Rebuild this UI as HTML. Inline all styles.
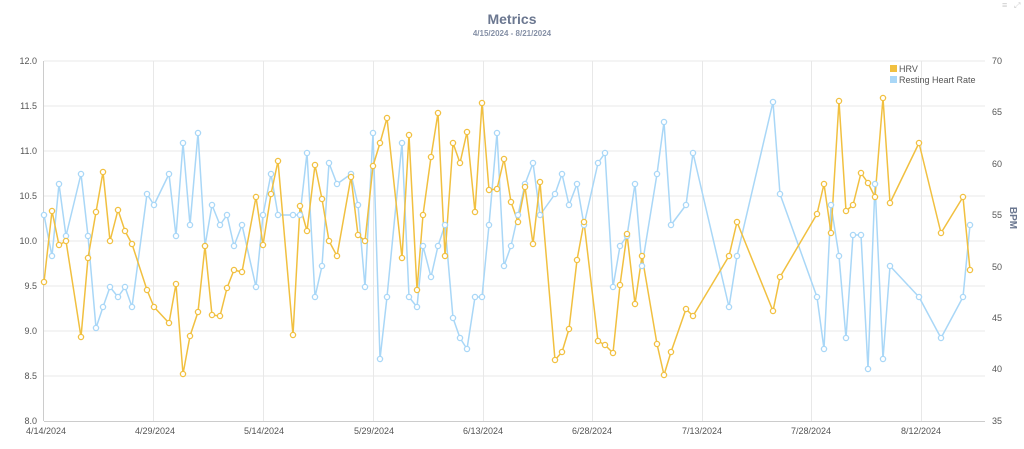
<!DOCTYPE html>
<html><head><meta charset="utf-8"><style>
html,body{margin:0;padding:0;background:#fff;}
svg{display:block;font-family:"Liberation Sans",sans-serif;}
</style></head><body>
<svg width="1024" height="449" viewBox="0 0 1024 449" xmlns="http://www.w3.org/2000/svg">
<text x="512" y="24" text-anchor="middle" font-size="14" font-weight="bold" fill="#6b7790">Metrics</text>
<text x="512" y="36" text-anchor="middle" font-size="8" font-weight="bold" fill="#8590a6">4/15/2024 - 8/21/2024</text>
<text x="1002" y="8" font-size="9" fill="#ccc">≡</text>
<text x="1014" y="8" font-size="8" fill="#ccc">⤢</text>
<g stroke="#e8e8e8" stroke-width="1">
<line x1="44" y1="61" x2="985" y2="61"/><line x1="44" y1="106" x2="985" y2="106"/>
<line x1="44" y1="151" x2="985" y2="151"/><line x1="44" y1="196" x2="985" y2="196"/>
<line x1="44" y1="241" x2="985" y2="241"/><line x1="44" y1="286" x2="985" y2="286"/>
<line x1="44" y1="331" x2="985" y2="331"/><line x1="44" y1="376" x2="985" y2="376"/>
<line x1="153.5" y1="61" x2="153.5" y2="421"/><line x1="263.5" y1="61" x2="263.5" y2="421"/>
<line x1="373.5" y1="61" x2="373.5" y2="421"/><line x1="483.5" y1="61" x2="483.5" y2="421"/>
<line x1="592.5" y1="61" x2="592.5" y2="421"/><line x1="702.5" y1="61" x2="702.5" y2="421"/>
<line x1="811.5" y1="61" x2="811.5" y2="421"/><line x1="921.5" y1="61" x2="921.5" y2="421"/>
</g>
<line x1="43.5" y1="61" x2="43.5" y2="421" stroke="#ccc"/>
<line x1="44" y1="421.5" x2="985" y2="421.5" stroke="#ccc"/>
<g font-size="9" fill="#555" text-anchor="end">
<text x="37" y="64">12.0</text><text x="37" y="109">11.5</text><text x="37" y="154">11.0</text>
<text x="37" y="199">10.5</text><text x="37" y="244">10.0</text><text x="37" y="289">9.5</text>
<text x="37" y="334">9.0</text><text x="37" y="379">8.5</text><text x="37" y="424">8.0</text>
</g>
<g font-size="9" fill="#555">
<text x="992" y="64">70</text><text x="992" y="115">65</text><text x="992" y="167">60</text>
<text x="992" y="218">55</text><text x="992" y="270">50</text><text x="992" y="321">45</text>
<text x="992" y="372">40</text><text x="992" y="424">35</text>
</g>
<g font-size="9" fill="#555" text-anchor="middle">
<text x="46" y="434">4/14/2024</text><text x="155" y="434">4/29/2024</text><text x="264" y="434">5/14/2024</text>
<text x="374" y="434">5/29/2024</text><text x="483" y="434">6/13/2024</text><text x="592" y="434">6/28/2024</text>
<text x="702" y="434">7/13/2024</text><text x="811" y="434">7/28/2024</text><text x="921" y="434">8/12/2024</text>
</g>
<text transform="translate(1010,218) rotate(90)" text-anchor="middle" font-size="10" font-weight="bold" fill="#6b7790">BPM</text>
<rect x="890" y="65" width="7" height="7" fill="#f1c040"/>
<text x="899" y="72" font-size="9" fill="#555">HRV</text>
<rect x="890" y="76" width="7" height="7" fill="#a9d7f7"/>
<text x="899" y="83" font-size="9" fill="#555">Resting Heart Rate</text>
<polyline fill="none" stroke="#a9d7f7" stroke-width="1.5" stroke-linejoin="round" points="44,215 52,256 59,184 66,236 81,174 88,236 96,328 103,307 110,287 118,297 125,287 132,307 147,194 154,205 169,174 176,236 183,143 190,225 198,133 205,246 212,205 220,225 227,215 234,246 242,225 256,287 263,215 271,174 278,215 293,215 300,215 307,153 315,297 322,266 329,163 337,184 351,174 358,205 365,287 373,133 380,359 387,297 402,143 409,297 417,307 423,246 431,277 438,246 445,225 453,318 460,338 467,349 475,297 482,297 489,225 497,133 504,266 511,246 518,215 525,184 533,163 540,215 555,194 562,174 569,205 577,184 584,225 598,163 605,153 613,287 620,246 627,236 635,184 642,266 657,174 664,122 671,225 686,205 693,153 729,307 737,256 773,102 780,194 817,297 824,349 831,205 839,256 846,338 853,235 861,235 868,369 875,184 883,359 890,266 919,297 941,338 963,297 970,225"/>
<polyline fill="none" stroke="#f1c040" stroke-width="1.5" stroke-linejoin="round" points="44,282 52,211 59,245 66,241 81,337 88,258 96,212 103,172 110,241 118,210 125,231 132,244 147,290 154,307 169,323 176,284 183,374 190,336 198,312 205,246 212,315 220,316 227,288 234,270 242,272 256,197 263,245 271,194 278,161 293,335 300,206 307,231 315,165 322,199 329,241 337,256 351,177 358,235 365,241 373,166 380,143 387,118 402,258 409,135 417,290 423,215 431,157 438,113 445,256 453,143 460,163 467,132 475,212 482,103 489,190 497,189 504,159 511,202 518,222 525,187 533,244 540,182 555,360 562,352 569,329 577,260 584,222 598,341 605,345 613,353 620,285 627,234 635,304 642,256 657,344 664,375 671,352 686,309 693,316 729,256 737,222 773,311 780,277 817,214 824,184 831,233 839,101 846,211 853,205 861,173 868,183 875,197 883,98 890,203 919,143 941,233 963,197 970,270"/>
<g id="m"></g>
<script>
function dots(id,pts,col){var s=document.querySelector('polyline[stroke="'+col+'"]').getAttribute('points').trim().split(/\s+/);var g=document.getElementById('m');s.forEach(function(p){var a=p.split(',');var c=document.createElementNS('http://www.w3.org/2000/svg','circle');c.setAttribute('cx',a[0]);c.setAttribute('cy',a[1]);c.setAttribute('r','2.6');c.setAttribute('fill','#fff');c.setAttribute('stroke',col);c.setAttribute('stroke-width','1.3');g.appendChild(c);});}
dots('m',null,'#a9d7f7');dots('m',null,'#f1c040');
</script>
</svg>
</body></html>
